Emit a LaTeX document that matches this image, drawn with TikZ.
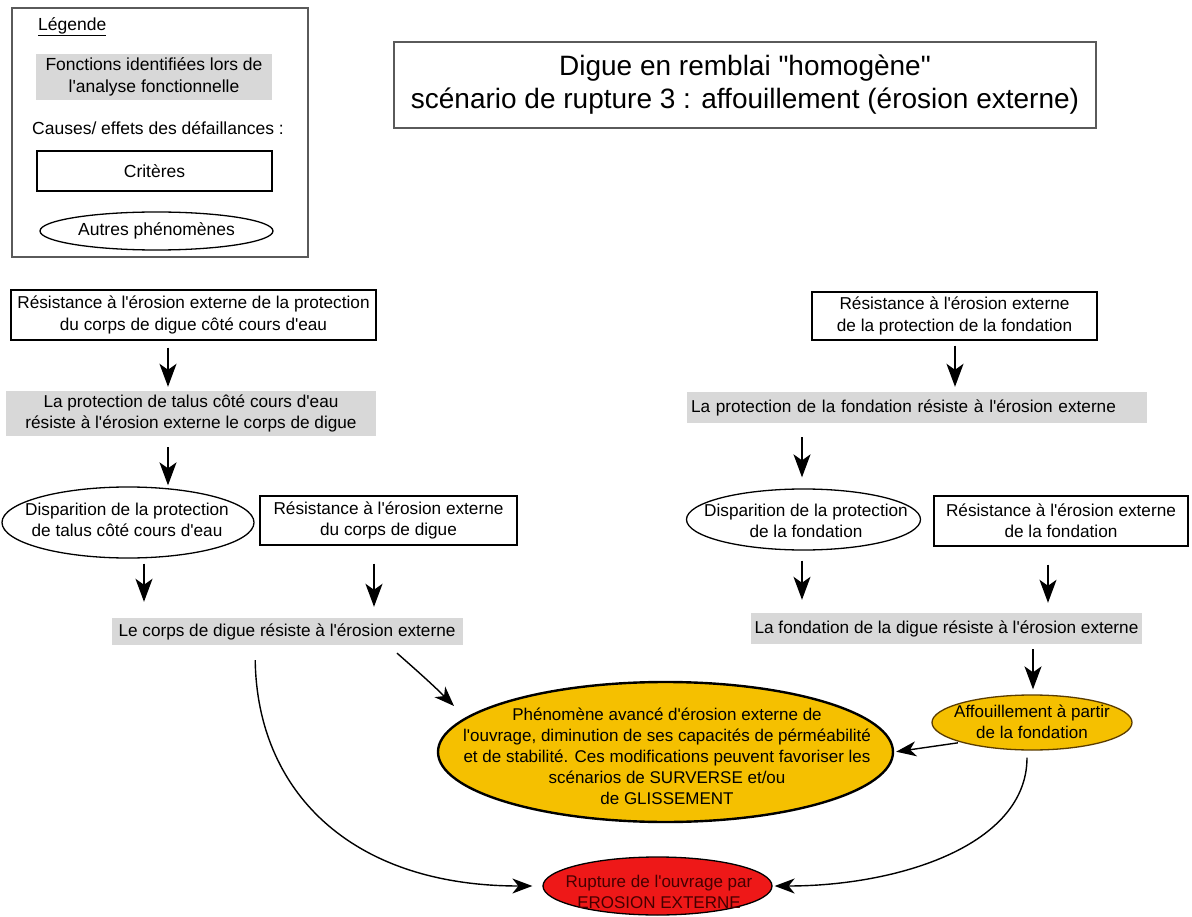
\documentclass[tikz,border=0pt]{standalone}
\usepackage{fontspec}
\setmainfont{Liberation Sans}[Ligatures=TeXOff]
\usetikzlibrary{shapes.geometric,arrows.meta}
\definecolor{gbox}{RGB}{216,216,216}
\definecolor{yel}{RGB}{245,192,0}
\definecolor{rd}{RGB}{238,24,24}
\definecolor{lgray}{RGB}{90,90,90}
\newcommand\fbx{\fontsize{17.2}{21.5}\selectfont}
\newcommand\fel{\fontsize{17}{21}\selectfont}
\newcommand\flg{\fontsize{17.5}{22}\selectfont}
\newcommand\fti{\fontsize{28}{33}\selectfont}
\begin{document}
\begin{tikzpicture}[x=1pt,y=-1pt,
  crit/.style={draw, line width=1.3pt, inner sep=0pt, align=center, font=\fbx},
  fonc/.style={fill=gbox, inner sep=0pt, align=center, font=\fbx},
  ellshape/.style={ellipse, draw, inner sep=0pt, line width=1.3pt},
  txt/.style={align=center, inner sep=0pt, font=\fbx},
  arr/.style={line width=1.6pt, -{Stealth[length=23pt,width=17pt,inset=6pt]}},
  carr/.style={line width=1.4pt, -{Stealth[length=20pt,width=15pt,inset=6pt]}}]
\useasboundingbox[fill=white] (0,0) rectangle (1192,917);

% Legend
\node[draw=lgray, line width=1.1pt, minimum width=296, minimum height=249, inner sep=0pt] (LEG) at (160,132.5) {};
\node[txt, font=\flg, anchor=west] (LEGt) at (38,27) {\underline{Légende}};
\node[fonc, font=\flg, minimum width=236, minimum height=46] (LGF) at (154,77) {Fonctions identifiées lors de\\l'analyse fonctionnelle};
\node[txt, font=\flg] (LGC) at (158,128) {Causes/ effets des défaillances :};
\node[crit, font=\flg, minimum width=235, minimum height=40] (LGK) at (154.5,171) {Critères};
\node[ellshape, minimum width=233, minimum height=38] (LGE) at (156.5,231) {};
\node[txt, font=\flg] (LGEt) at (LGE) {Autres phénomènes};

% Title
\node[draw=lgray, line width=1.1pt, minimum width=702, minimum height=86, inner sep=0pt, align=center, font=\fti] (TIT) at (745,85) {Digue en remblai "homogène"\\scénario de rupture 3 : affouillement (érosion externe)};

% Left column
\node[crit, minimum width=365, minimum height=50] (A1) at (193.5,315) {Résistance à l'érosion externe de la protection\\du corps de digue côté cours d'eau};
\node[fonc, minimum width=370, minimum height=45] (G1) at (191,413.5) {La protection de talus côté cours d'eau\\résiste à l'érosion externe le corps de digue};
\node[ellshape, minimum width=252, minimum height=71] (E1) at (128,522.5) {};
\node[txt] (E1t) at (127,520) {Disparition de la protection\\de talus côté cours d'eau};
\node[crit, minimum width=257, minimum height=49] (A2) at (388.5,520.5) {Résistance à l'érosion externe\\du corps de digue};
\node[fonc, minimum width=351, minimum height=27] (G2) at (287,631.5) {Le corps de digue résiste à l'érosion externe};

% Right column
\node[crit, minimum width=285, minimum height=48] (B1) at (954.5,316) {Résistance à l'érosion externe\\de la protection de la fondation};
\node[fonc, minimum width=460, minimum height=31, text width=452, align=left] (G3) at (917,407.5) {La protection de la fondation résiste à l'érosion externe};
\node[ellshape, minimum width=234, minimum height=61] (E2) at (803.5,519.5) {};
\node[txt] (E2t) at (806,521) {Disparition de la protection\\de la fondation};
\node[crit, minimum width=254, minimum height=50] (B2) at (1061,521) {Résistance à l'érosion externe\\de la fondation};
\node[fonc, minimum width=391, minimum height=31] (G4) at (946.5,628.5) {La fondation de la digue résiste à l'érosion externe};

% Bottom
\node[ellshape, fill=yel, line width=2.4pt, minimum width=455, minimum height=140] (Y1) at (665.5,752) {};
\node[txt, font=\fel] (Y1t) at (667,756) {Phénomène avancé d'érosion externe de\\l'ouvrage, diminution de ses capacités de pérméabilité\\et de stabilité. Ces modifications peuvent favoriser les\\scénarios de SURVERSE et/ou\\de GLISSEMENT};
\node[ellshape, fill=yel, draw={rgb,255:red,90;green,60;blue,0}, minimum width=200, minimum height=55] (Y2) at (1032,722.5) {};
\node[txt, font=\fel] (Y2t) at (1032,722) {Affouillement à partir\\de la fondation};
\node[ellshape, fill=rd, minimum width=229, minimum height=58] (R) at (657.5,886) {};
\node[txt, font=\fel, text={rgb,255:red,70;green,0;blue,0}] (Rt) at (659,892) {Rupture de l'ouvrage par\\EROSION EXTERNE};

% Straight arrows
\coordinate (xa) at (168,0);
\coordinate (xb) at (144,0);
\coordinate (xc) at (374,0);
\coordinate (xd) at (955,0);
\coordinate (xe) at (802,0);
\coordinate (xf) at (1048,0);
\coordinate (xg) at (1033,0);
\draw[arr, shorten <=7pt, shorten >=4pt] (A1.south -| xa) -- (G1.north -| xa);
\draw[arr, shorten <=11pt, shorten >=1pt] (G1.south -| xa) -- (E1.north -| xa);
\draw[arr, shorten <=5pt, shorten >=16pt] (E1.south -| xb) -- (G2.north -| xb);
\draw[arr, shorten <=18pt, shorten >=11pt] (A2.south -| xc) -- (G2.north -| xc);
\draw[arr, shorten <=5pt, shorten >=5pt] (B1.south -| xd) -- (G3.north -| xd);
\draw[arr, shorten <=14pt, shorten >=11pt] (G3.south -| xe) -- (E2.north -| xe);
\draw[arr, shorten <=10pt, shorten >=13pt] (E2.south -| xe) -- (G4.north -| xe);
\draw[arr, shorten <=18pt, shorten >=10pt] (B2.south -| xf) -- (G4.north -| xf);
\draw[arr, shorten <=5pt, shorten >=5pt] (G4.south -| xg) -- (Y2.north -| xg);

% Curved arrows
\coordinate (xh) at (255,0);
\coordinate (xi) at (388,0);
\coordinate (xj) at (1027,0);
\coordinate (c2end) at (454,706);
\draw[carr, shorten <=15pt, shorten >=10pt] (G2.south -| xh) .. controls +(2,145) and +(-193,0) .. (R.west);
\draw[carr, shorten <=12pt] (G2.south -| xi) .. controls +(25,22) and +(-22,-22) .. (c2end);
\draw[carr, shorten <=7pt, shorten >=2pt] (Y2.south -| xj) .. controls +(0,95) and +(125,0) .. (R.east);
\draw[carr, shorten <=3pt, shorten >=2pt] (Y2.south west) -- (Y1.east);
\end{tikzpicture}
\end{document}
